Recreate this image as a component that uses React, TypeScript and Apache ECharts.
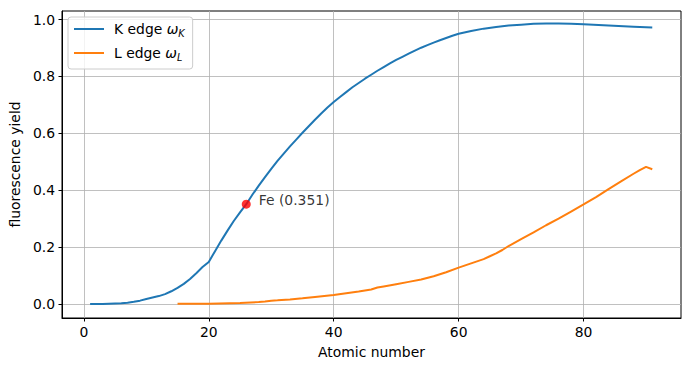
import React, { useEffect, useRef } from "react";
import * as echarts from "echarts";

const K_Z = [1, 2, 3, 4, 5, 6, 7, 8, 9, 10, 11, 12, 13, 14, 15, 16, 17, 18, 19, 20,
  21, 22, 23, 24, 25, 26, 27, 28, 29, 30, 31, 32, 33, 34, 35, 36, 37, 38, 39, 40,
  41, 42, 43, 44, 45, 46, 47, 48, 49, 50, 51, 52, 53, 54, 55, 56, 57, 58, 59, 60,
  62, 64, 66, 68, 70, 72, 74, 76, 78, 80, 84, 88, 91];
const K_YIELD = [0.000, 0.000, 0.000, 0.001, 0.002, 0.003, 0.005, 0.008, 0.012, 0.018,
  0.023, 0.028, 0.035, 0.045, 0.057, 0.071, 0.088, 0.108, 0.130, 0.148,
  0.186, 0.223, 0.258, 0.292, 0.322, 0.351, 0.385, 0.416, 0.446, 0.475,
  0.503, 0.529, 0.554, 0.578, 0.602, 0.625, 0.648, 0.670, 0.691, 0.710,
  0.728, 0.745, 0.762, 0.777, 0.792, 0.806, 0.820, 0.833, 0.846, 0.858,
  0.869, 0.880, 0.891, 0.901, 0.910, 0.919, 0.927, 0.935, 0.943, 0.950,
  0.960, 0.968, 0.974, 0.979, 0.982, 0.985, 0.986, 0.986, 0.985, 0.983,
  0.979, 0.975, 0.972];

const L_Z = [15, 20, 25, 28, 29, 30, 31, 33, 35, 37, 40, 42, 44, 46, 47, 48, 50, 52, 54,
  56, 58, 60, 62, 64, 65, 66, 67, 68, 70, 72, 74, 76, 78, 80, 82, 84, 86, 88, 89, 90, 91];
const L_YIELD = [0.001, 0.001, 0.004, 0.007, 0.009, 0.012, 0.013, 0.016, 0.020, 0.025,
  0.032, 0.038, 0.044, 0.051, 0.058, 0.062, 0.070, 0.078, 0.086,
  0.098, 0.112, 0.128, 0.143, 0.158, 0.168, 0.178, 0.190, 0.204, 0.228, 0.252,
  0.277, 0.300, 0.325, 0.350, 0.376, 0.404, 0.431, 0.458, 0.471, 0.482, 0.474];

const FE_Z = 26;
const FE_YIELD = 0.351;
const FE_LABEL = "Fe (0.351)";

const X_TICKS = [0, 20, 40, 60, 80];
const Y_TICKS = [0, 0.2, 0.4, 0.6, 0.8, 1.0];

const FONT = "DejaVu Sans";

export default function App() {
  const ref = useRef<HTMLDivElement>(null);
  useEffect(() => {
    if (!ref.current) return;
    const chart = echarts.init(ref.current, null, { renderer: "svg" });
    const kData = K_Z.map((z, i) => [z, K_YIELD[i]]);
    const lData = L_Z.map((z, i) => [z, L_YIELD[i]]);
    chart.setOption({
      animation: false,
      textStyle: { fontFamily: FONT },
      grid: {
        left: 61, right: 10, top: 11, bottom: 53,
        show: true, borderColor: "#000", borderWidth: 1, backgroundColor: "transparent",
      },
      legend: {
        data: ["K edge", "L edge"],
        orient: "vertical",
        left: 68, top: 17,
        itemWidth: 30, itemHeight: 14, itemGap: 8,
        padding: [5, 8, 7, 5],
        backgroundColor: "rgba(255,255,255,0.8)",
        borderColor: "#cccccc", borderWidth: 1, borderRadius: 3,
        itemStyle: { opacity: 0 },
        lineStyle: { width: 2 },
        formatter: (name: string) =>
          name === "K edge" ? "K edge {m|ω}{s|K}" : "L edge {m|ω}{s|L}",
        textStyle: {
          fontFamily: FONT, fontSize: 13.9, color: "#000", padding: [0, 0, 0, 5],
          rich: {
            m: { fontFamily: FONT, fontSize: 13.9, fontStyle: "italic", color: "#000" },
            s: { fontFamily: FONT, fontSize: 9.7, fontStyle: "italic", color: "#000", padding: [8, 0, 0, 0] },
          },
        },
      },
      xAxis: {
        type: "value",
        min: -3.5, max: 95.6,
        name: "Atomic number",
        nameLocation: "middle",
        nameGap: 27,
        nameTextStyle: { fontFamily: FONT, fontSize: 13.9, color: "#000", verticalAlign: "top" },
        axisLine: { show: true, onZero: false, lineStyle: { color: "#000", width: 1 } },
        axisTick: { show: true, length: 3.5, lineStyle: { color: "#000", width: 1 }, customValues: X_TICKS },
        axisLabel: { margin: 7, fontFamily: FONT, fontSize: 13.9, color: "#000", customValues: X_TICKS },
        splitLine: { show: true, lineStyle: { color: "#b0b0b0", width: 0.8 } },
      },
      yAxis: {
        type: "value",
        min: -0.049, max: 1.03,
        name: "fluorescence yield",
        nameLocation: "middle",
        nameGap: 38,
        nameTextStyle: { fontFamily: FONT, fontSize: 13.9, color: "#000" },
        axisLine: { show: true, onZero: false, lineStyle: { color: "#000", width: 1 } },
        axisTick: { show: true, length: 3.5, lineStyle: { color: "#000", width: 1 }, customValues: Y_TICKS },
        axisLabel: {
          margin: 7, fontFamily: FONT, fontSize: 13.9, color: "#000", customValues: Y_TICKS,
          formatter: (v: number) => v.toFixed(1),
        },
        splitLine: { show: true, lineStyle: { color: "#b0b0b0", width: 0.8 } },
      },
      series: [
        {
          name: "K edge", type: "line", data: kData, symbol: "none",
          lineStyle: { color: "#1f77b4", width: 2 }, itemStyle: { color: "#1f77b4" },
        },
        {
          name: "L edge", type: "line", data: lData, symbol: "none",
          lineStyle: { color: "#ff7f0e", width: 2 }, itemStyle: { color: "#ff7f0e" },
        },
        {
          name: "Fe", type: "scatter", data: [[FE_Z, FE_YIELD]], symbolSize: 9,
          itemStyle: { color: "red" },
          label: {
            show: true, position: "right", distance: 8, offset: [0, -4],
            formatter: () => FE_LABEL,
            fontFamily: FONT, fontSize: 13.9, color: "#000",
          },
          z: 5,
        },
      ],
    });
    return () => chart.dispose();
  }, []);
  return <div ref={ref} style={{ width: 691, height: 371, position: "absolute", left: 0, top: 0 }} />;
}
